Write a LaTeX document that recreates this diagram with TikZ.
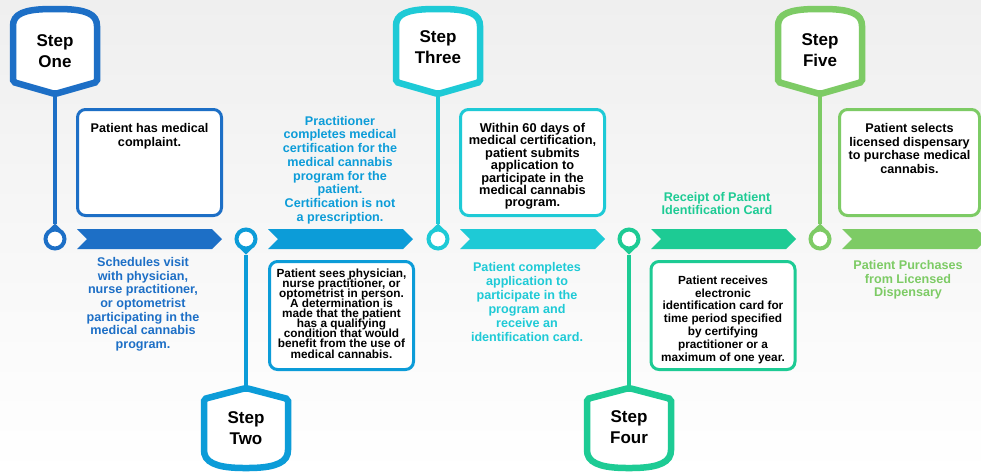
\documentclass[tikz,border=0pt]{standalone}
\usepackage{fontspec}
\setmainfont{Liberation Sans}
\usetikzlibrary{positioning,shapes.symbols}
\definecolor{stepone}{RGB}{29,111,198}
\definecolor{steptwo}{RGB}{12,156,216}
\definecolor{stepthree}{RGB}{30,202,214}
\definecolor{stepfour}{RGB}{29,203,148}
\definecolor{stepfive}{RGB}{125,203,101}
\definecolor{bgtop}{RGB}{239,239,239}
\newcommand{\fs}[2]{\fontsize{#1}{#2}\selectfont}
\newcommand{\tightlines}{\lineskiplimit=-\maxdimen\relax}
\tikzset{
  steptxt/.style = {font=\bfseries\fs{17}{21.5}, align=center, inner sep=0pt},
  badge/.style   = {draw=#1, line width=6.5pt, fill=white, rounded corners=2pt},
  drop/.style    = {circle, draw=#1, line width=4pt, fill=white,
                    minimum size=19pt, inner sep=0pt},
  stem/.style    = {draw=#1, line width=3.5pt},
  band/.style    = {signal, signal to=east, signal from=west,
                    signal pointer angle=90, fill=#1, draw=none,
                    minimum width=145pt, minimum height=20pt, inner sep=0pt},
  box/.style     = {rectangle, draw=#1, line width=3pt, rounded corners=8pt,
                    fill=white, minimum width=144pt, minimum height=106pt},
  boxtxt/.style  = {font=\bfseries\fs{12.6}{13.4}, align=center, inner sep=0pt},
  tight/.style   = {font=\bfseries\fs{11.8}{10.1}\tightlines,
                    align=center, inner sep=0pt},
  lab/.style     = {text=#1, font=\bfseries\fs{12.6}{13.7}, align=center,
                    inner sep=0pt}
}

\begin{document}
\begin{tikzpicture}[x=1pt, y=-1pt]
\useasboundingbox (0,0) rectangle (981,475);
\clip (0,0) rectangle (981,475);
\shade[top color=bgtop, bottom color=white] (0,0) rectangle (981,475);

% --- badges top: steps 1, 3, 5 ---
\foreach \i/\cx/\col in {1/55/stepone, 3/438/stepthree, 5/820/stepfive}{
  \draw[badge=\col] (\cx-42,82) -- (\cx-42,24)
    .. controls (\cx-39,11) and (\cx-22,9) .. (\cx,9)
    .. controls (\cx+22,9) and (\cx+39,11) .. (\cx+42,24)
    -- (\cx+42,82) -- (\cx,94) -- cycle;
  \coordinate (p\i) at (\cx,94);
  \node[drop=\col] (d\i) at (\cx,239) {};
  \draw[stem=\col] (p\i) -- ([yshift=4pt]d\i.north);
  \fill[\col] (d\i.118) -- ([yshift=4pt]d\i.north) -- (d\i.62) -- cycle;
}

% --- badges bottom: steps 2, 4 ---
\foreach \i/\cx/\col in {2/246/steptwo, 4/629/stepfour}{
  \draw[badge=\col] (\cx-42,399) -- (\cx,388) -- (\cx+42,399) -- (\cx+42,452)
    .. controls (\cx+39,465) and (\cx+22,468) .. (\cx,468)
    .. controls (\cx-22,468) and (\cx-39,465) .. (\cx-42,452) -- cycle;
  \coordinate (p\i) at (\cx,388);
  \node[drop=\col] (d\i) at (\cx,239) {};
  \draw[stem=\col] ([yshift=-4pt]d\i.south) -- (p\i);
  \fill[\col] (d\i.-118) -- ([yshift=-4pt]d\i.south) -- (d\i.-62) -- cycle;
}

% --- timeline bands ---
\foreach \i/\cx/\col in {1/55/stepone, 2/246/steptwo, 3/438/stepthree,
                         4/629/stepfour, 5/820/stepfive}
  \node[band=\col] (a\i) at (\cx+94.5,239) {};

% --- step titles ---
\node[steptxt] (s1) at (55,51)   {Step\\One};
\node[steptxt] (s2) at (246,428) {Step\\Two};
\node[steptxt] (s3) at (438,47)  {Step\\Three};
\node[steptxt] (s4) at (629,427) {Step\\Four};
\node[steptxt] (s5) at (820,50)  {Step\\Five};

% --- boxes ---
\node[box=stepone] (b1) at (149.5,162.5) {};
\node[box=steptwo, minimum height=108pt] (b2) at (341.5,315.5) {};
\node[box=stepthree] (b3) at (532.5,162.5) {};
\node[box=stepfour, minimum height=108pt] (b4) at (723,315.5) {};
\node[box=stepfive, minimum width=140pt] (b5) at (909.5,162.5) {};

\node[boxtxt, below=15.5pt of b1.north] (t1) {Patient has medical\\complaint.};
\node[tight, below=8.5pt of b2.north] (t2) {Patient sees physician,\\nurse practitioner, or\\optometrist in person.\\A determination is\\made that the patient\\has a qualifying\\condition that would\\benefit from the use of\\medical cannabis.};
\node[boxtxt, font=\bfseries\fs{12.8}{12.4}, below=15pt of b3.north] (t3) {Within 60 days of\\medical certification,\\patient submits\\application to\\participate in the\\medical cannabis\\program.};
\node[boxtxt, font=\bfseries\fs{11.8}{12.8}, below=15.5pt of b4.north] (t4) {Patient receives\\electronic\\identification card for\\time period specified\\by certifying\\practitioner or a\\maximum of one year.};
\node[boxtxt, font=\bfseries\fs{12.6}{13.8}, below=15pt of b5.north] (t5) {Patient selects\\licensed dispensary\\to purchase medical\\cannabis.};

% --- labels along the bands ---
\node[lab=stepone, anchor=north] (l1) at (143,257) {Schedules visit\\with physician,\\nurse practitioner,\\or optometrist\\participating in the\\medical cannabis\\program.};
\node[lab=steptwo, anchor=south] (l2) at (340,224) {Practitioner\\completes medical\\certification for the\\medical cannabis\\program for the\\patient.\\Certification is not\\a prescription.};
\node[lab=stepthree, font=\bfseries\fs{12.6}{14}, anchor=north] (l3) at (527,262) {Patient completes\\application to\\participate in the\\program and\\receive an\\identification card.};
\node[lab=stepfour, font=\bfseries\fs{12.6}{13}, anchor=south] (l4) at (717,214.5) {Receipt of Patient\\Identification Card};
\node[lab=stepfive, anchor=north] (l5) at (908,260) {Patient Purchases\\from Licensed\\Dispensary};
\end{tikzpicture}
\end{document}
